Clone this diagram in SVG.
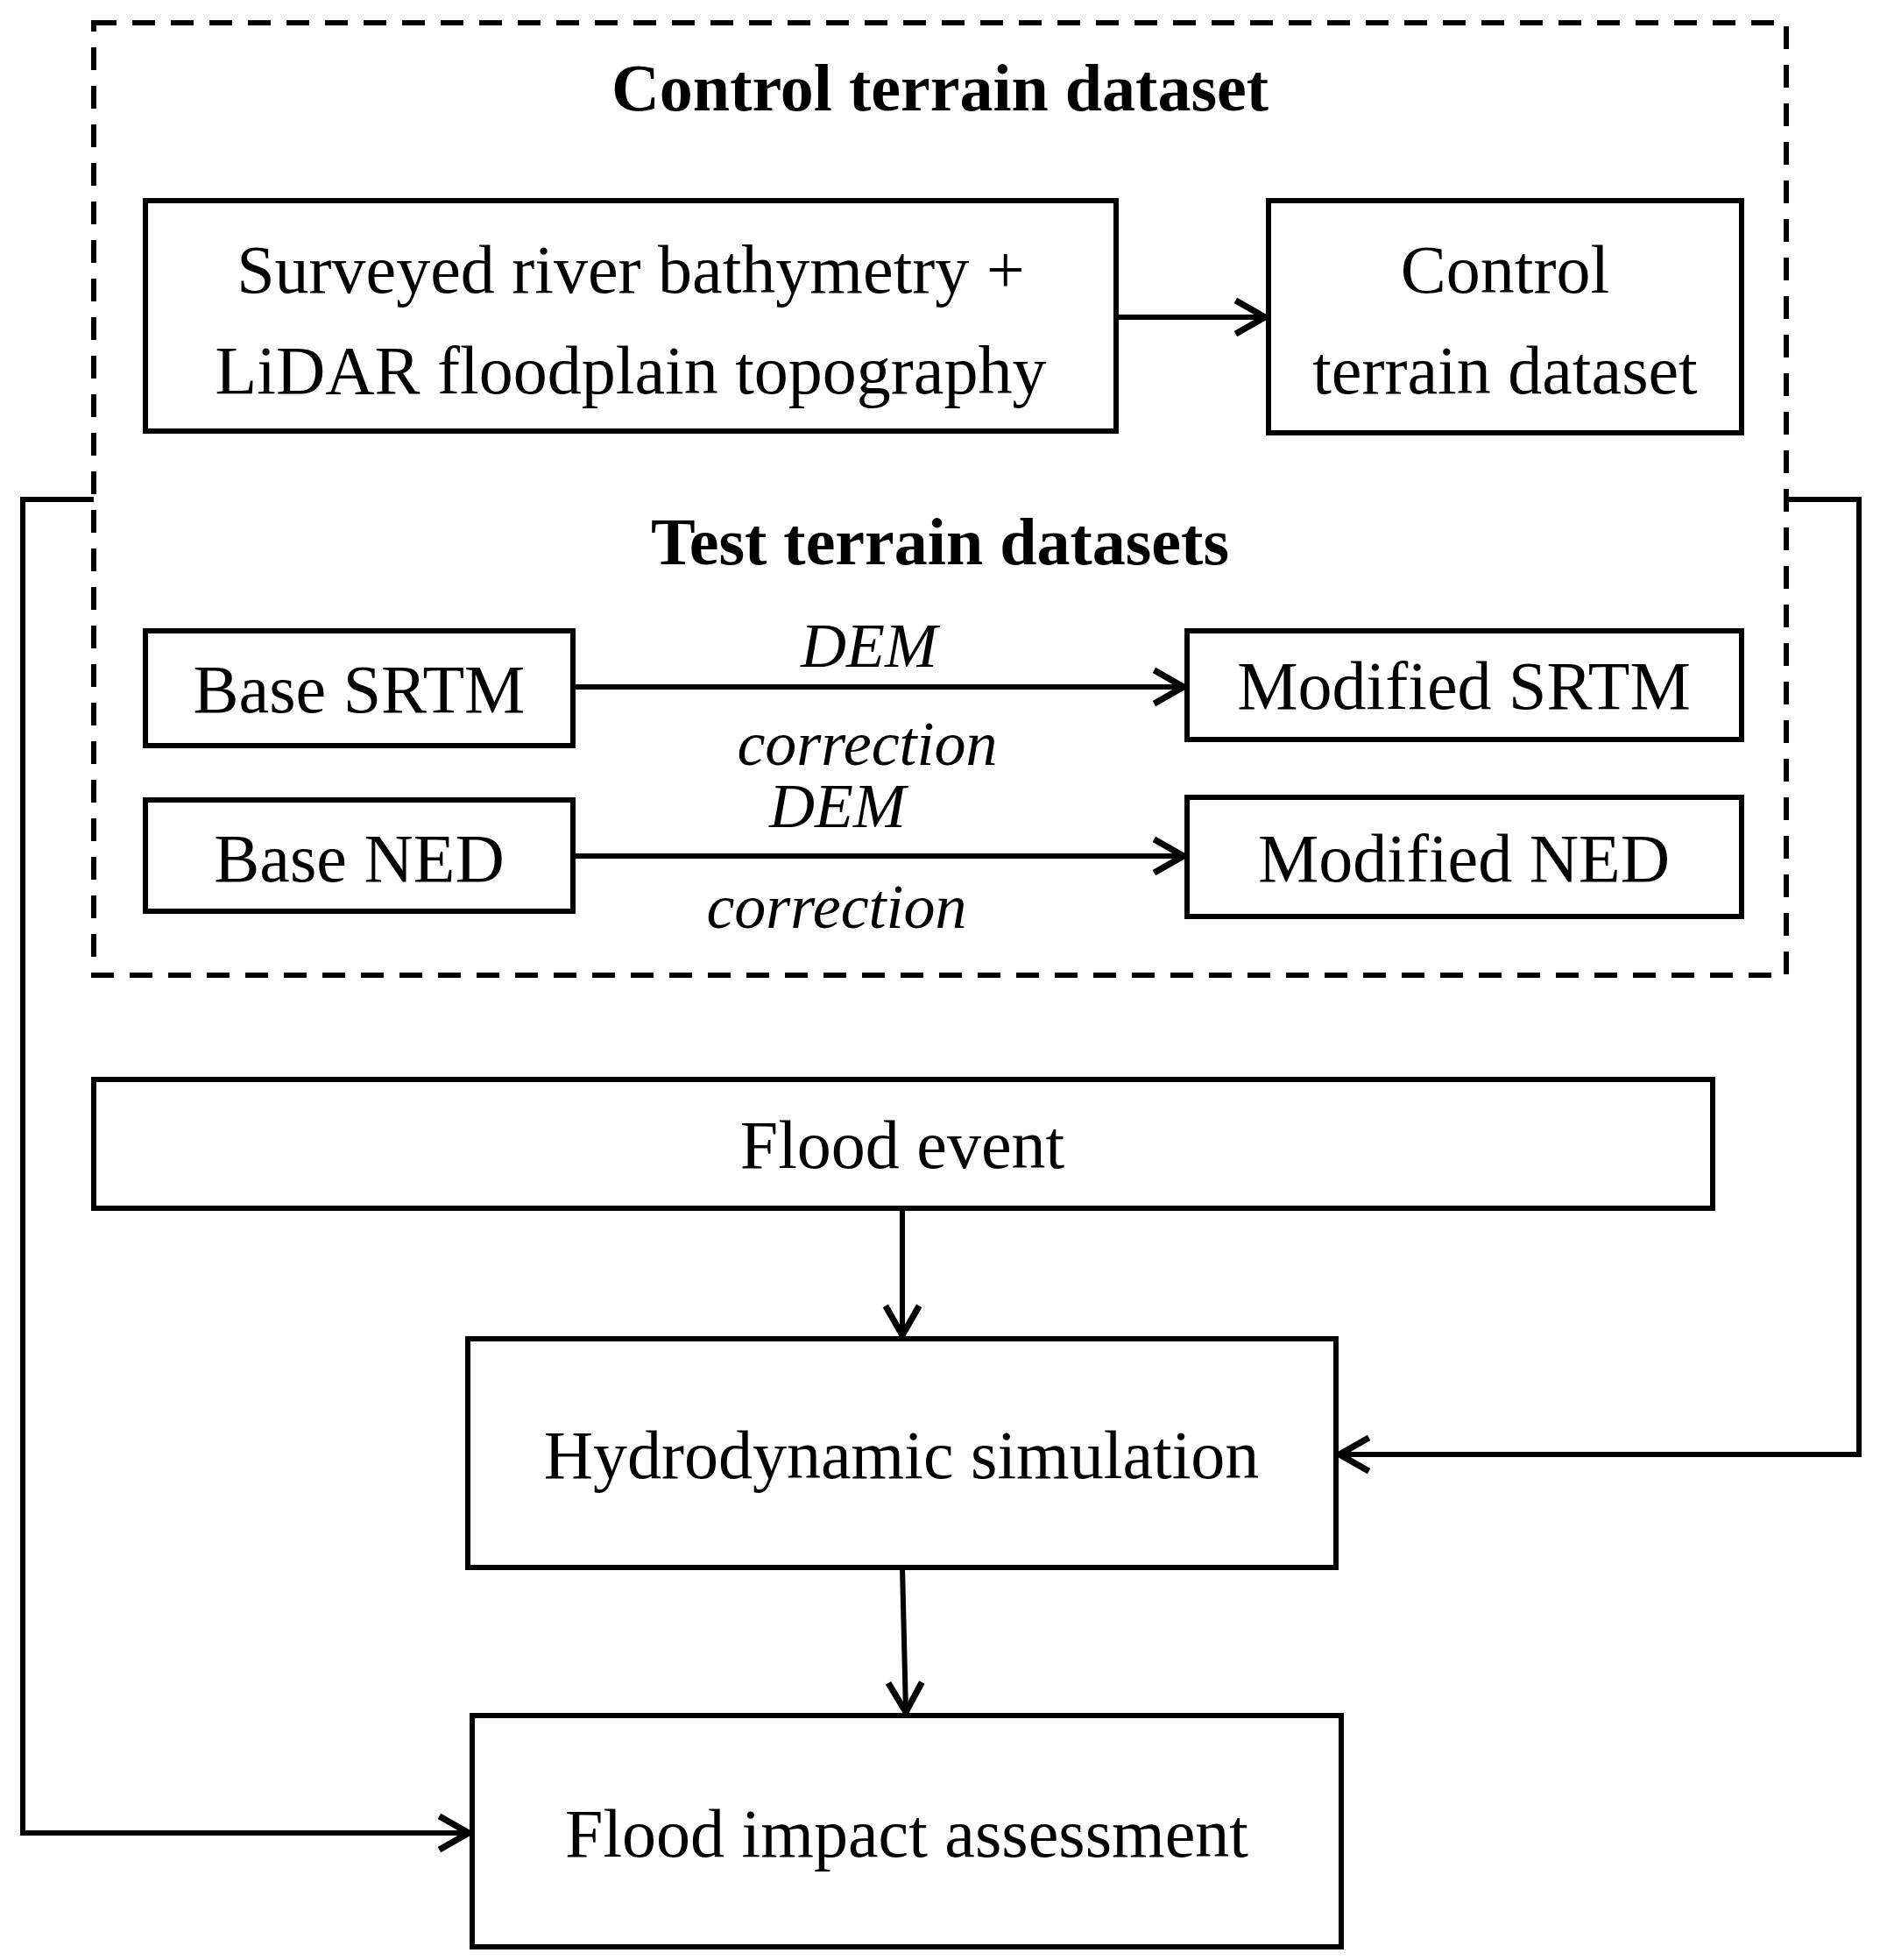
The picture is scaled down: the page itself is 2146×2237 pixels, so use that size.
<svg xmlns="http://www.w3.org/2000/svg" width="2146" height="2237" viewBox="0 0 2146 2237">
<style>
text{font-family:"Liberation Serif","Times New Roman",serif;fill:#000;text-anchor:middle}
.t{font-size:78px}
.h{font-size:76px;font-weight:bold}
.i{font-size:72px;font-style:italic}
.n rect{fill:#fff;stroke:#000;stroke-width:6}
.c path{fill:none;stroke:#000;stroke-width:6}
</style>
<defs>
<marker id="a" viewBox="0 0 20 20" refX="18" refY="10" markerWidth="8" markerHeight="8" markerUnits="strokeWidth" orient="auto">
<path d="M4,2 L18,10 L4,18" fill="none" stroke="#000" stroke-width="3"/>
</marker>
</defs>
<rect width="2146" height="2237" fill="#fff"/>
<g id="group" class="n"><rect x="107" y="26" width="1932" height="1087" style="fill:none" stroke-dasharray="26,18"/>
<text class="h" x="1073" y="126">Control terrain dataset</text>
<text class="h" x="1073" y="644">Test terrain datasets</text></g>
<g class="c" id="connectors">
<path d="M1274,362 H1444" marker-end="url(#a)"/>
<path d="M654,784 H1351" marker-end="url(#a)"/>
<path d="M654,977 H1351" marker-end="url(#a)"/>
<path d="M1030,1379 V1524" marker-end="url(#a)"/>
<path d="M1030,1789 L1034,1954" marker-end="url(#a)"/>
<path d="M107,570 H26 V2092 H535" marker-end="url(#a)"/>
<path d="M2039,570 H2122 V1660 H1529" marker-end="url(#a)"/>
<text class="i" x="992" y="761">DEM</text>
<text class="i" x="990" y="873">correction</text>
<text class="i" x="956" y="944">DEM</text>
<text class="i" x="955" y="1059">correction</text>
</g>
<g id="survey" class="n"><rect x="166" y="229" width="1108" height="263"/><text class="t" x="720" y="334">Surveyed river bathymetry +</text><text class="t" x="720" y="449">LiDAR  floodplain topography</text></g>
<g id="control" class="n"><rect x="1448" y="229" width="540" height="265"/><text class="t" x="1718" y="334">Control</text><text class="t" x="1718" y="449">terrain dataset</text></g>
<g id="bsrtm" class="n"><rect x="166" y="720" width="488" height="131"/><text class="t" x="410" y="813">Base SRTM</text></g>
<g id="msrtm" class="n"><rect x="1355" y="720" width="633" height="124"/><text class="t" x="1671" y="809">Modified SRTM</text></g>
<g id="bned" class="n"><rect x="166" y="913" width="488" height="127"/><text class="t" x="410" y="1006">Base NED</text></g>
<g id="mned" class="n"><rect x="1355" y="910" width="633" height="136"/><text class="t" x="1671" y="1006">Modified NED</text></g>
<g id="flood" class="n"><rect x="107" y="1232" width="1848" height="147"/><text class="t" x="1030" y="1333">Flood event</text></g>
<g id="hydro" class="n"><rect x="534" y="1528" width="991" height="261"/><text class="t" x="1029" y="1687">Hydrodynamic  simulation</text></g>
<g id="impact" class="n"><rect x="539" y="1958" width="992" height="264"/><text class="t" x="1035" y="2119">Flood impact assessment</text></g>
</svg>
